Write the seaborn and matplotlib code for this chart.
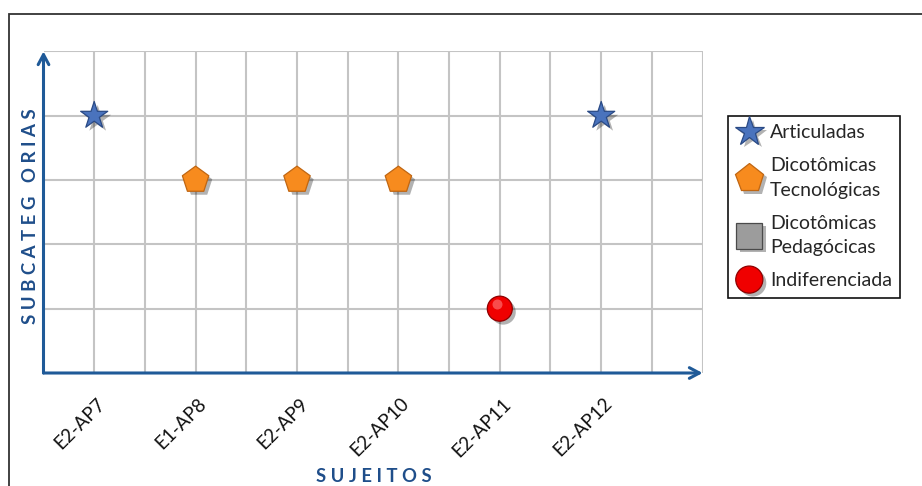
import matplotlib
matplotlib.use("Agg")
import matplotlib.pyplot as plt
import matplotlib.patheffects as pe
from matplotlib.lines import Line2D
from matplotlib.patches import Rectangle
from matplotlib.transforms import ScaledTranslation
import numpy as np
import pandas as pd
import seaborn as sns

# --- data -------------------------------------------------------------
subjects = ["E2-AP7", "E1-AP8", "E2-AP9", "E2-AP10", "E2-AP11", "E2-AP12"]
subject_group = ["Articuladas", "Dicotômicas\nTecnológicas", "Dicotômicas\nTecnológicas",
                 "Dicotômicas\nTecnológicas", "Indiferenciada", "Articuladas"]
groups = ["Articuladas", "Dicotômicas\nTecnológicas", "Dicotômicas\nPedagócicas", "Indiferenciada"]
group_level = [4, 3, 2, 1]

# --- styling per subcategory -----------------------------------------
face = {"Articuladas": "#4A73BD", "Dicotômicas\nTecnológicas": "#F78B1E",
        "Dicotômicas\nPedagócicas": "#9C9C9C", "Indiferenciada": "#F00000"}
edge = {"Articuladas": "#2A4A85", "Dicotômicas\nTecnológicas": "#C06612",
        "Dicotômicas\nPedagócicas": "#4A4A4A", "Indiferenciada": "#900000"}
shape = {"Articuladas": "*", "Dicotômicas\nTecnológicas": "p",
         "Dicotômicas\nPedagócicas": "s", "Indiferenciada": "o"}
msize = {"Articuladas": 20.5, "Dicotômicas\nTecnológicas": 20,
         "Dicotômicas\nPedagócicas": 17, "Indiferenciada": 18}

level_of = dict(zip(groups, group_level))
df = pd.DataFrame({
    "pos": np.arange(len(subjects)),
    "sujeito": subjects,
    "grupo": subject_group,
    "nivel": [level_of[g] for g in subject_group],
})

sns.set_theme(style="white")
plt.rcParams["font.family"] = ["Lato", "DejaVu Sans"]

AXIS_BLUE = "#1F5A98"
TITLE_BLUE = "#1F4E8A"

fig = plt.figure(figsize=(9.22, 4.86), dpi=100)
ax = fig.add_axes([43.5 / 922, 1 - 373 / 486, (703 - 43.5) / 922, (373 - 51) / 486])

shadow = [pe.SimplePatchShadow(offset=(2.5, -2.5), shadow_rgbFace="#000000", alpha=0.3), pe.Normal()]

for g in groups:
    sub = df[df["grupo"] == g]
    if sub.empty:
        continue
    sns.scatterplot(data=sub, x="pos", y="nivel", ax=ax, marker=shape[g],
                    s=msize[g] ** 2, color=face[g], edgecolor=edge[g], linewidth=0.9,
                    legend=False, zorder=5, path_effects=shadow)
    if shape[g] == "o":
        # glossy spot on the sphere
        hl = sub.assign(pos=sub["pos"] - 0.03, nivel=sub["nivel"] + 0.07)
        sns.scatterplot(data=hl, x="pos", y="nivel", ax=ax, marker="o",
                        s=(msize[g] * 0.4) ** 2, color="#FF8080", alpha=0.6, linewidth=0,
                        legend=False, zorder=6)

ax.set_xlim(-0.5, 6.004)
ax.set_ylim(0, 5.006)

# grid every half subject horizontally, every level vertically
ax.set_xticks(np.arange(0, 6.01, 0.5), minor=True)
ax.set_xticks(df["pos"], labels=df["sujeito"])
ax.set_yticks(np.arange(1, 6))
ax.set_yticklabels([])
ax.grid(True, which="both", color="#C4C4C4", linewidth=1.5)
ax.tick_params(which="both", length=0)
ax.tick_params(axis="x", pad=20, labelsize=13.5, labelcolor="#111111")
for lbl in ax.get_xticklabels():
    lbl.set_rotation(45)
    lbl.set_ha("right")
    lbl.set_va("center")
    lbl.set_rotation_mode("anchor")
    lbl.set_transform(lbl.get_transform() + ScaledTranslation(0.08, 0, fig.dpi_scale_trans))

for s in ax.spines.values():
    s.set_visible(False)
ax.set_xlabel("")
ax.set_ylabel("")

# axis arrows
arrow_style = dict(arrowstyle="->,head_length=0.6,head_width=0.32", color=AXIS_BLUE,
                   lw=2.2, shrinkA=0, shrinkB=0)
ax.annotate("", xy=(6.0, 0), xytext=(-0.5, 0), xycoords="data",
            arrowprops=arrow_style, annotation_clip=False, zorder=7)
ax.annotate("", xy=(-0.5, 5.0), xytext=(-0.5, 0), xycoords="data",
            arrowprops=arrow_style, annotation_clip=False, zorder=7)

# axis titles
fig.text(373.5 / 922, 1 - 476.5 / 486, "S U J E I T O S", ha="center", va="center",
         fontsize=13.2, fontweight="bold", color=TITLE_BLUE)
fig.text(31 / 922, 1 - 216.5 / 486, "S U B C A T E G   O R I A S",
         ha="center", va="center", rotation=90, fontsize=13.4, fontweight="bold",
         color=TITLE_BLUE)

# legend
handles = [Line2D([], [], linestyle="none", marker=shape[g], markersize=msize[g] + 1.5,
                  markerfacecolor=face[g], markeredgecolor=edge[g], markeredgewidth=0.9,
                  path_effects=shadow) for g in groups]
leg = fig.legend(handles, groups, loc="upper left", bbox_to_anchor=(728 / 922, 1 - 116 / 486),
                 frameon=True, fancybox=False, edgecolor="#111111", framealpha=1,
                 fontsize=14, handlelength=1.35, handletextpad=0.4, labelspacing=0.82,
                 borderpad=0.42, borderaxespad=0)
leg.get_frame().set_linewidth(1.2)
for t in leg.get_texts():
    t.set_linespacing(1.55)

# outer frame of the figure
fig.patches.append(Rectangle((8.5 / 922, -0.2), 1.3, 1.2 - 14 / 486, transform=fig.transFigure,
                             fill=False, edgecolor="#333333", linewidth=1.3))

fig.savefig("out.png", dpi=100)
